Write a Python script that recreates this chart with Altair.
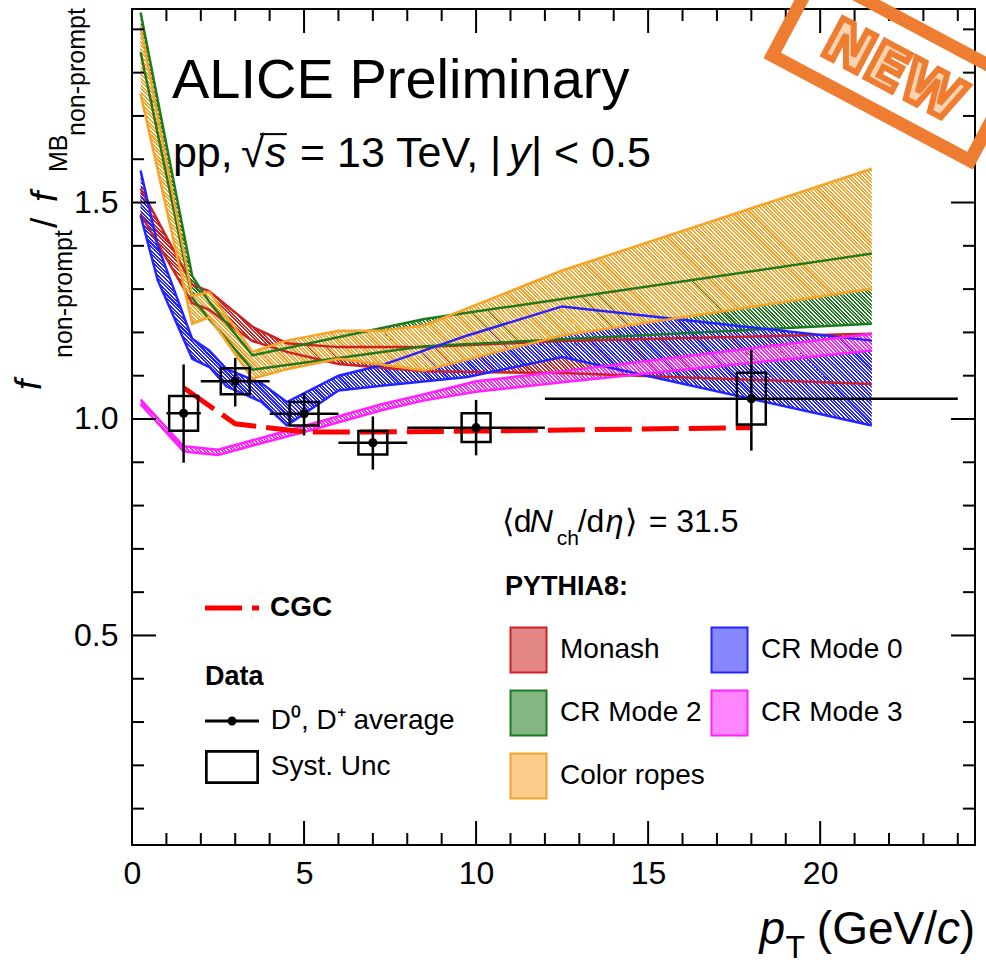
import math
import altair as alt
import pandas as pd

FONT = "Liberation Sans"

# ---------------- measured data (ALICE points) ----------------
data_pt = [1.5, 3.0, 5.0, 7.0, 10.0, 18.0]
data_pt_lo = [1.0, 2.0, 4.0, 6.0, 8.0, 12.0]
data_pt_hi = [2.0, 4.0, 6.0, 8.0, 12.0, 24.0]
data_val = [1.013, 1.087, 1.012, 0.945, 0.980, 1.047]
data_stat_lo = [0.899, 1.029, 0.962, 0.883, 0.916, 0.927]
data_stat_hi = [1.126, 1.141, 1.060, 1.006, 1.044, 1.160]
data_syst = [0.040, 0.030, 0.027, 0.027, 0.033, 0.060]

# ---------------- CGC ----------------
cgc_pt = [1.5, 3.0, 5.0, 7.0, 10.0, 18.0]
cgc_val = [1.072, 0.989, 0.970, 0.970, 0.972, 0.980]

# ---------------- PYTHIA8 bands ----------------
# legend order (column-major, 2 columns)
model_names = ["Monash", "CR Mode 2", "Color ropes", "CR Mode 0", "CR Mode 3"]
model_colors = ["#cc2222", "#1e7a1e", "#f6a32a", "#2424ff", "#ff22ff"]
model_fills = ["#e38686", "#83b683", "#fbcc8a", "#8787ff", "#ff86ff"]

mon_pt = [0.25, 1.75, 2.25, 3.5, 4.5, 6.0, 8.5, 12.5, 21.5]
mon_lo = [1.474, 1.268, 1.252, 1.180, 1.155, 1.127, 1.110, 1.106, 1.081]
mon_hi = [1.532, 1.310, 1.295, 1.213, 1.175, 1.166, 1.166, 1.180, 1.197]

cr0_pt = [0.25, 0.75, 1.75, 2.25, 2.75, 3.75, 4.5, 6.0, 7.25, 9.75, 12.5, 21.5]
cr0_lo = [1.470, 1.320, 1.139, 1.120, 1.075, 1.040, 0.985, 1.066, 1.077, 1.097, 1.143, 0.985]
cr0_hi = [1.574, 1.400, 1.185, 1.158, 1.115, 1.083, 1.039, 1.100, 1.124, 1.193, 1.260, 1.181]

cr2_pt = [0.25, 1.75, 2.25, 3.5, 8.5, 12.5, 21.5]
cr2_lo = [1.847, 1.280, 1.230, 1.114, 1.168, 1.184, 1.220]
cr2_hi = [1.939, 1.330, 1.270, 1.147, 1.231, 1.277, 1.382]

cr3_pt = [0.25, 1.5, 2.5, 3.75, 5.0, 7.25, 8.5, 10.0, 12.5, 21.5]
cr3_lo = [1.034, 0.925, 0.917, 0.944, 0.970, 1.020, 1.043, 1.063, 1.085, 1.158]
cr3_hi = [1.045, 0.937, 0.929, 0.956, 0.984, 1.034, 1.057, 1.087, 1.110, 1.197]

cro_pt = [0.25, 1.75, 2.25, 3.5, 4.5, 6.0, 7.25, 8.5, 12.5, 21.5]
cro_lo = [1.751, 1.220, 1.235, 1.093, 1.115, 1.139, 1.126, 1.112, 1.193, 1.301]
cro_hi = [1.905, 1.285, 1.293, 1.155, 1.181, 1.204, 1.204, 1.216, 1.343, 1.578]

bands = {
    "Monash": (mon_pt, mon_lo, mon_hi),
    "CR Mode 0": (cr0_pt, cr0_lo, cr0_hi),
    "CR Mode 2": (cr2_pt, cr2_lo, cr2_hi),
    "CR Mode 3": (cr3_pt, cr3_lo, cr3_hi),
    "Color ropes": (cro_pt, cro_lo, cro_hi),
}
draw_order = ["Monash", "CR Mode 2", "CR Mode 0", "CR Mode 3", "Color ropes"]

# ---------------- axis ticks ----------------
x_major = [0, 5, 10, 15, 20]
x_minor = [1, 2, 3, 4, 6, 7, 8, 9, 11, 12, 13, 14, 16, 17, 18, 19, 21, 22, 23, 24]
y_major = [0.5, 1.0, 1.5]
y_minor = [0.1, 0.2, 0.3, 0.4, 0.6, 0.7, 0.8, 0.9, 1.1, 1.2, 1.3, 1.4, 1.6, 1.7, 1.8, 1.9]

LAB_D = "D\u2070, D\u207a average"
LAB_S = "Syst. Unc"

# ---------------- layout ----------------
W, H = 843, 836
XMIN, XMAX = 0.0, 24.5
YMIN, YMAX = 0.016, 1.947
xsc = alt.Scale(domain=[XMIN, XMAX], nice=False, zero=False)
ysc = alt.Scale(domain=[YMIN, YMAX], nice=False, zero=False)
ONE = alt.Data(values=[{}])

xaxis = alt.Axis(values=x_major, format="d", labelFontSize=32, labelFont=FONT, labelColor="black",
                 labelPadding=13, ticks=False, tickSize=0, domain=False, grid=False, title=None,
                 labelFlush=False, labelOverlap=False)
yaxis = alt.Axis(values=y_major, format=".1f", labelFontSize=32, labelFont=FONT, labelColor="black",
                 labelPadding=14, ticks=False, tickSize=0, domain=False, grid=False, title=None,
                 labelFlush=False, labelOverlap=False)

def X(f):
    return alt.X(f, type="quantitative", scale=xsc, axis=xaxis)

def Y(f):
    return alt.Y(f, type="quantitative", scale=ysc, axis=yaxis)

def XD(v):
    return alt.XDatum(v, type="quantitative", scale=xsc, axis=xaxis)

def YD(v):
    return alt.YDatum(v, type="quantitative", scale=ysc, axis=yaxis)

# ---- hatch fill (45 deg "\\\" stripes, phase-aligned across bands) as a striped gradient ----
KX = W / (XMAX - XMIN)
KY = H / (YMAX - YMIN)
PER = 3.6    # stripe period, measured along a horizontal line (px)
DUTY = 0.56  # coloured fraction of each period

def hatch(color, xs, ys_lo, ys_hi):
    x0 = (min(xs) - XMIN) * KX
    wb = (max(xs) - min(xs)) * KX
    y0 = (YMAX - max(ys_hi)) * KY
    hb = (max(ys_hi) - min(ys_lo)) * KY
    s = wb + hb
    k = s / (wb * wb + hb * hb)
    q0 = -hb + x0 - y0          # value of (px - py) where t = 0
    q1 = q0 + s                 # value of (px - py) where t = 1
    stops = []
    i = math.floor(q0 / PER)
    while i * PER < q1:
        a, b, c = i * PER, i * PER + PER * DUTY, (i + 1) * PER
        ta, tb, tc = [min(1.0, max(0.0, (q - q0) / s)) for q in (a, b, c)]
        stops += [(ta, color), (tb, color), (tb, "rgba(255,255,255,0)"), (tc, "rgba(255,255,255,0)")]
        i += 1
    return alt.LinearGradient(
        gradient="linear", x1=0, y1=1, x2=k * wb, y2=1 - k * hb,
        stops=[alt.GradientStop(offset=round(o, 6), color=c) for o, c in stops])

RECT_PATH = "M-0.8,-1L0.8,-1L0.8,1L-0.8,1Z"
leg_py = alt.Legend(
    title="PYTHIA8:", orient="none", legendX=373, legendY=564.7, columns=2,
    columnPadding=1, rowPadding=10, titlePadding=25.8, labelOffset=8,
    symbolType=RECT_PATH, symbolSize=2025, symbolStrokeWidth=2, symbolOpacity=1,
    titleFontSize=27, titleFontWeight="bold", labelFontSize=28,
)
fill_scale = alt.Scale(domain=model_names, range=model_fills)
stroke_scale = alt.Scale(domain=model_names, range=model_colors)
col_of = dict(zip(model_names, model_colors))

layers = []
for m in draw_order:
    p, lo, hi = bands[m]
    df = pd.DataFrame({"model": m, "pt": p, "lo": lo, "hi": hi})
    layers.append(
        alt.Chart(df).mark_area(opacity=1, fill=hatch(col_of[m], p, lo, hi), strokeWidth=0).encode(
            x=X("pt"), y=Y("lo"), y2="hi")
    )
# invisible layer that only feeds the legend swatch fills
df_leg = pd.DataFrame({"model": model_names, "pt": [1.0] * 5, "lo": [1.0] * 5, "hi": [1.0] * 5})
layers.append(
    alt.Chart(df_leg).mark_area(opacity=0).encode(
        x=X("pt"), y=Y("lo"), y2="hi",
        fill=alt.Fill("model:N", scale=fill_scale, legend=leg_py))
)
for m in draw_order:
    p, lo, hi = bands[m]
    n = len(p)
    df = pd.DataFrame({"model": m, "pt": list(p) * 2, "v": list(lo) + list(hi),
                       "edge": ["lo"] * n + ["hi"] * n})
    layers.append(
        alt.Chart(df).mark_line(strokeWidth=2.5, opacity=1).encode(
            x=X("pt"), y=Y("v"), detail="edge:N",
            stroke=alt.Stroke("model:N", scale=stroke_scale, legend=leg_py),
        )
    )

# CGC
df_cgc = pd.DataFrame({"pt": cgc_pt, "v": cgc_val, "name": "CGC"})
leg_cgc = alt.Legend(title=None, orient="none", legendX=70.5, legendY=569.5,
                     symbolType="stroke", symbolSize=2916, symbolStrokeWidth=5,
                     symbolStrokeColor="#ff0000", labelOffset=8.5, labelFontSize=28,
                     labelFontWeight="bold")
layers.append(
    alt.Chart(df_cgc).mark_line(color="#ff0000", strokeWidth=5).encode(
        x=X("pt"), y=Y("v"),
        strokeDash=alt.StrokeDash("name:N", scale=alt.Scale(domain=["CGC"], range=[[37, 10]]),
                                  legend=leg_cgc),
    )
)

# data
df_d = pd.DataFrame({"pt": data_pt, "xlo": data_pt_lo, "xhi": data_pt_hi, "v": data_val,
                     "slo": data_stat_lo, "shi": data_stat_hi, "syst": data_syst})
BOX_HALF = 0.42
df_d["bx0"] = df_d["pt"] - BOX_HALF
df_d["bx1"] = df_d["pt"] + BOX_HALF
df_d["by0"] = df_d["v"] - df_d["syst"]
df_d["by1"] = df_d["v"] + df_d["syst"]
df_d["lab"] = LAB_D

layers.append(alt.Chart(df_d).mark_rect(filled=False, color="black", strokeWidth=2.5).encode(
    x=X("bx0"), x2="bx1", y=Y("by0"), y2="by1"))
layers.append(alt.Chart(df_d).mark_rule(color="black", strokeWidth=2.5).encode(
    x=X("pt"), y=Y("slo"), y2="shi"))
layers.append(alt.Chart(df_d).mark_rule(color="black", strokeWidth=2.5).encode(
    x=X("xlo"), x2="xhi", y=Y("v")))
layers.append(alt.Chart(df_d).mark_circle(size=85, color="black", opacity=1).encode(
    x=X("pt"), y=Y("v")))

PATH_LD = ("M-1,-0.055L1,-0.055L1,0.055L-1,0.055Z "
           "M-0.167,0A0.167,0.167 0 1,1 0.167,0A0.167,0.167 0 1,1 -0.167,0Z")
PATH_BOX = ("M-1,-0.63L1,-0.63L1,0.63L-1,0.63Z "
            "M-0.9,-0.53L-0.9,0.53L0.9,0.53L0.9,-0.53Z")
leg_data = alt.Legend(title="Data", orient="none", legendX=73, legendY=654.5,
                      titlePadding=3.5, rowPadding=5, labelOffset=11.7,
                      symbolSize=2916, symbolFillColor="black", symbolStrokeColor="black",
                      symbolStrokeWidth=0, symbolOpacity=1, titleFontSize=27,
                      titleFontWeight="bold", labelFontSize=28)
layers.append(alt.Chart(df_d).mark_point(opacity=0, filled=True, color="black", strokeWidth=0).encode(
    x=X("pt"), y=Y("v"),
    shape=alt.Shape("lab:N", scale=alt.Scale(domain=[LAB_D, LAB_S], range=[PATH_LD, PATH_BOX]),
                    legend=leg_data)))

# ---------------- ticks (inside, all four sides) ----------------
df_xM = pd.DataFrame({"v": x_major})
df_xm = pd.DataFrame({"v": x_minor})
df_yM = pd.DataFrame({"v": y_major})
df_ym = pd.DataFrame({"v": y_minor})
TK = dict(color="black", strokeWidth=2)
layers += [
    alt.Chart(df_xM).mark_rule(**TK).encode(x=X("v"), y=alt.value(H), y2=alt.value(H - 24)),
    alt.Chart(df_xM).mark_rule(**TK).encode(x=X("v"), y=alt.value(0), y2=alt.value(24)),
    alt.Chart(df_xm).mark_rule(**TK).encode(x=X("v"), y=alt.value(H), y2=alt.value(H - 12)),
    alt.Chart(df_xm).mark_rule(**TK).encode(x=X("v"), y=alt.value(0), y2=alt.value(12)),
    alt.Chart(df_yM).mark_rule(**TK).encode(y=Y("v"), x=alt.value(0), x2=alt.value(24)),
    alt.Chart(df_yM).mark_rule(**TK).encode(y=Y("v"), x=alt.value(W), x2=alt.value(W - 24)),
    alt.Chart(df_ym).mark_rule(**TK).encode(y=Y("v"), x=alt.value(0), x2=alt.value(12)),
    alt.Chart(df_ym).mark_rule(**TK).encode(y=Y("v"), x=alt.value(W), x2=alt.value(W - 12)),
]

# ---------------- text ----------------
def txt(text, x, y, size, dx=0, dy=0, style="normal", weight="normal", align="left",
        baseline="alphabetic", angle=0, font=FONT, **kw):
    props = dict(text=text, fontSize=size, dx=dx, dy=dy, fontStyle=style, fontWeight=weight,
                 align=align, baseline=baseline, font=font)
    if angle:
        props["angle"] = angle
    if "color" not in kw and "fill" not in kw:
        props["color"] = "black"
    props.update(kw)
    return alt.Chart(ONE).mark_text(**props).encode(x=XD(x), y=YD(y))

# ALICE Preliminary
layers.append(txt("ALICE Preliminary", 1.1625, 1.7414, 56))
# pp, sqrt(s) = 13 TeV, |y| < 0.5
px0, py0 = 1.19, 1.583
layers += [
    txt("pp,", px0, py0, 43),
    txt("\u221a", px0, py0, 43, dx=68),
    txt("s", px0, py0, 43, dx=92, style="italic"),
    txt("= 13 TeV, |", px0, py0, 43, dx=127),
    txt("y", px0, py0, 43, dx=336, style="italic"),
    txt("| < 0.5", px0, py0, 43, dx=358),
]
# overline of the square root
layers.append(alt.Chart(ONE).mark_rule(color="black", strokeWidth=2).encode(
    x=XD(3.72), x2=alt.X2Datum(4.50), y=YD(1.658)))
# <dN_ch/deta> = 31.5
dx0, dy0 = 10.744, 0.7396
layers += [
    txt("\u27e8d", dx0, dy0, 32),
    txt("N", dx0, dy0, 32, dx=28, style="italic"),
    txt("ch", dx0, dy0, 21, dx=55, dy=13),
    txt("/d", dx0, dy0, 32, dx=76),
    txt("\u03b7", dx0, dy0, 32, dx=104, style="italic"),
    txt("\u27e9", dx0, dy0, 32, dx=123),
    txt("= 31.5", dx0, dy0, 32, dx=147),
]
# x title
tx0, ty0 = 24.5, -0.213
layers += [
    txt(")", tx0, ty0, 46, align="right"),
    txt("c", tx0, ty0, 46, dx=-15, align="right", style="italic"),
    txt("(GeV/", tx0, ty0, 46, dx=-38, align="right"),
    txt("T", tx0, ty0, 32, dx=-170, dy=14, align="right"),
    txt("p", tx0, ty0, 46, dx=-190, align="right", style="italic"),
]
# y title (rotated), anchored at the baseline start of the first f
yx0, yy0 = -2.645, 1.067
layers += [
    txt("f", yx0, yy0, 37, dx=0, dy=0, angle=270, style="italic"),
    txt("non-prompt", yx0, yy0, 25, dx=32, dy=31, angle=270),
    txt("/", yx0, yy0, 37, dx=162, dy=16, angle=270),
    txt("f", yx0, yy0, 37, dx=188, dy=16, angle=270, style="italic"),
    txt("MB", yx0, yy0, 25, dx=218, dy=26, angle=270),
    txt("non-prompt", yx0, yy0, 25, dx=254, dy=44, angle=270),
]
# NEW stamp
STAMP_BOX = "M-1,-0.415L1,-0.415L1,0.415L-1,0.415Z"
layers.append(alt.Chart(ONE).mark_point(shape=STAMP_BOX, size=50176, angle=28, filled=False,
                                        color="#ee7d31", strokeWidth=13, opacity=1).encode(
    x=XD(22.116), y=YD(1.813)))
layers.append(txt("NEW", 22.116, 1.800, 57, align="center", baseline="middle", angle=28,
                  font="DejaVu Sans", weight="bold", fill="#fcd3b1", stroke="#ee7d31",
                  strokeWidth=6))

chart = alt.layer(*layers).properties(
    width=W, height=H,
    autosize=alt.AutoSizeParams(type="none"),
    padding={"left": 132, "top": 9, "right": 11, "bottom": 121},
    background="white",
).configure_view(stroke="black", strokeWidth=2).configure_legend(
    labelFont=FONT, titleFont=FONT, labelColor="black", titleColor="black", padding=0,
    labelLimit=400, titleLimit=400
)

chart.save("out.html", embed_options={"renderer": "svg", "actions": False})
